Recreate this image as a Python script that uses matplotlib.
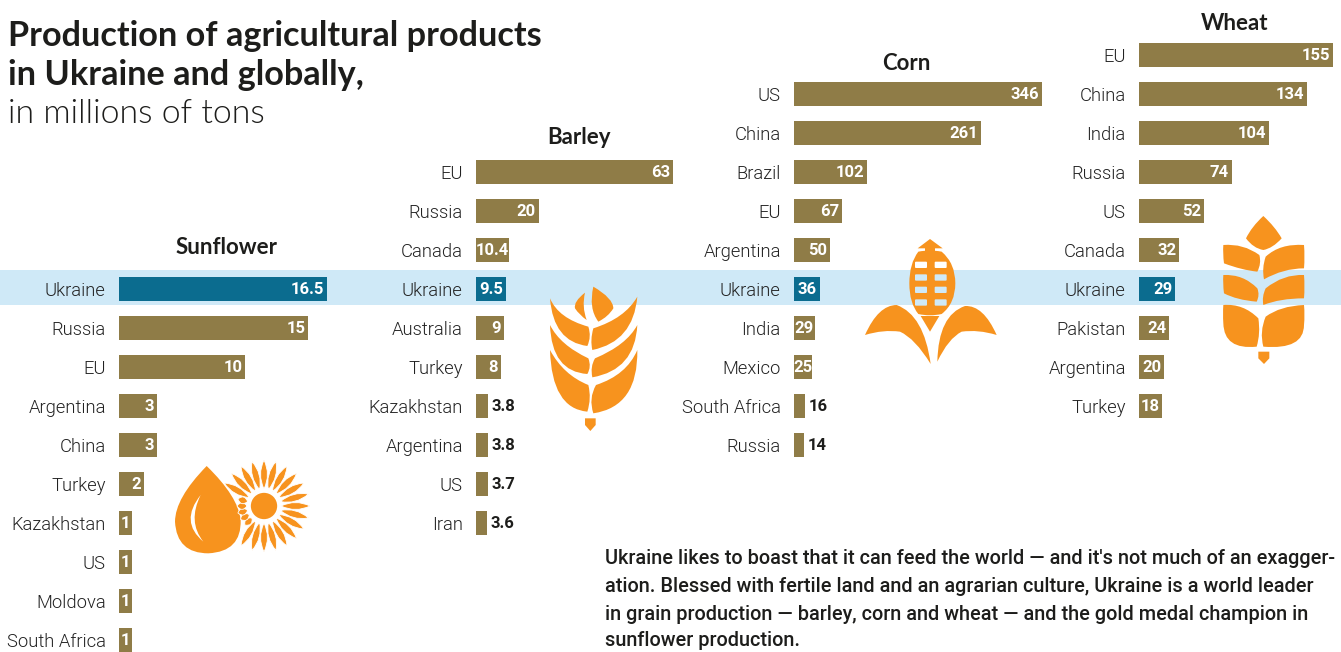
import numpy as np
import matplotlib
matplotlib.use('Agg')
import matplotlib.pyplot as plt
from matplotlib.path import Path
from matplotlib.patches import PathPatch, Circle, FancyBboxPatch

# Production figures, millions of tons
sunflower_names = ['Ukraine', 'Russia', 'EU', 'Argentina', 'China', 'Turkey', 'Kazakhstan', 'US', 'Moldova', 'South Africa']
sunflower_vals = [16.5, 15, 10, 3, 3, 2, 1, 1, 1, 1]
barley_names = ['EU', 'Russia', 'Canada', 'Ukraine', 'Australia', 'Turkey', 'Kazakhstan', 'Argentina', 'US', 'Iran']
barley_vals = [63, 20, 10.4, 9.5, 9, 8, 3.8, 3.8, 3.7, 3.6]
corn_names = ['US', 'China', 'Brazil', 'EU', 'Argentina', 'Ukraine', 'India', 'Mexico', 'South Africa', 'Russia']
corn_vals = [346, 261, 102, 67, 50, 36, 29, 25, 16, 14]
wheat_names = ['EU', 'China', 'India', 'Russia', 'US', 'Canada', 'Ukraine', 'Pakistan', 'Argentina', 'Turkey']
wheat_vals = [155, 134, 104, 74, 52, 32, 29, 24, 20, 18]

W, H = 1341, 652
ROW = 39
BAR = '#8f7c47'
UKR = '#0b6c8f'
BAND = '#cfe9f7'
ORANGE = '#f7931e'
DARK = '#1d1d1b'

fig = plt.figure(figsize=(W / 100, H / 100), dpi=100, facecolor='white')

# background layer in pixel units: highlight band, icons, headings
bg = fig.add_axes([0, 0, 1, 1], zorder=0)
bg.set_xlim(0, W)
bg.set_ylim(H, 0)
bg.axis('off')
bg.axhspan(270, 305, color=BAND, lw=0)


def panel(names, vals, x0, x1, y_first, outside_below=0):
    n = len(vals)
    top = y_first - ROW / 2
    height = ROW * n
    ax = fig.add_axes([x0 / W, 1 - (top + height) / H, (x1 - x0) / W, height / H], zorder=2)
    ax.patch.set_alpha(0)
    ax.set_xlim(0, max(vals))
    ax.set_ylim(n - 0.5, -0.5)
    colors = [UKR if name == 'Ukraine' else BAR for name in names]
    ax.barh(np.arange(n), vals, height=0.64, color=colors)
    ax.set_yticks(np.arange(n))
    ax.set_yticklabels(names, family='Roboto', weight=300, fontsize=13.2, color='#222222')
    ax.tick_params(axis='y', length=0, pad=9.5)
    ax.set_xticks([])
    for s in ax.spines.values():
        s.set_visible(False)
    px_per = (x1 - x0) / max(vals)
    font = dict(family='Roboto', weight='bold', fontsize=12, va='center', textcoords='offset points')
    for i, v in enumerate(vals):
        txt = f'{v:g}'
        if v < outside_below:
            ax.annotate(txt, (v, i), xytext=(2.5, -0.5), ha='left', color=DARK, **font)
        elif v * px_per < len(txt) * 10 + 8:
            ax.annotate(txt, (v / 2, i), xytext=(0, -0.5), ha='center', color='white', **font)
        else:
            ax.annotate(txt, (v, i), xytext=(-2, -0.5), ha='right', color='white', **font)
    return ax


panel(sunflower_names, sunflower_vals, 119, 327, 289)
panel(barley_names, barley_vals, 476, 673, 172, outside_below=4)
panel(corn_names, corn_vals, 794, 1042, 94, outside_below=20)
panel(wheat_names, wheat_vals, 1139, 1333, 55)

# headings
for label, x, y in [('Sunflower', 227, 247), ('Barley', 579, 137), ('Corn', 906, 63), ('Wheat', 1235, 24)]:
    bg.text(x, y, label, ha='center', va='center', family='Lato', weight='bold', fontsize=16, color=DARK)

bg.text(8, 36, 'Production of agricultural products', family='Lato', weight='bold', fontsize=24.7,
        va='center', color=DARK)
bg.text(8, 75, 'in Ukraine and globally,', family='Lato', weight='bold', fontsize=24.7, va='center', color=DARK)
bg.text(8, 114, 'in millions of tons', family='Lato', weight=300, fontsize=24.4, va='center', color=DARK)

para = ["Ukraine likes to boast that it can feed the world \u2014 and it's not much of an exagger-",
        'ation. Blessed with fertile land and an agrarian culture, Ukraine is a world leader',
        'in grain production \u2014 barley, corn and wheat \u2014 and the gold medal champion in',
        'sunflower production.']
for line, y in zip(para, [558, 586, 614, 641]):
    bg.text(605, y, line, family='Roboto', weight='medium', fontsize=14.3, va='center', color=DARK)


def shape(points, off, fc=ORANGE, z=3):
    # anchors and quadratic control points alternate, closed back at the first anchor
    pts = [(off[0] + px / 3, off[1] + py / 3) for px, py in points]
    verts = pts + [pts[0]]
    codes = [Path.MOVETO] + [Path.CURVE3] * len(pts)
    bg.add_patch(PathPatch(Path(verts, codes), fc=fc, ec='none', zorder=z))


def poly(points, off, fc=ORANGE, z=3):
    pts = [(off[0] + px / 3, off[1] + py / 3) for px, py in points]
    bg.add_patch(plt.Polygon(pts, closed=True, fc=fc, ec='none', zorder=z))


# barley ear
off = (530, 270)
barley_leaves = [
    [(190, 50), (250, 85), (250, 115), (235, 140), (205, 155), (175, 115)],
    [(165, 68), (130, 95), (135, 115), (148, 135), (170, 150), (155, 110)],
    [(60, 85), (85, 145), (175, 170), (185, 200), (172, 228), (70, 215)],
    [(60, 165), (90, 225), (175, 265), (185, 290), (172, 312), (65, 305)],
    [(60, 240), (100, 315), (175, 345), (185, 385), (172, 425), (65, 415)],
    [(322, 80), (285, 145), (190, 175), (180, 210), (187, 240), (310, 215)],
    [(322, 165), (290, 225), (195, 265), (180, 290), (187, 322), (315, 300)],
    [(322, 240), (290, 315), (198, 345), (175, 385), (190, 430), (325, 410)],
]
for leaf in barley_leaves:
    shape(leaf, off)
poly([(165, 445), (197, 445), (197, 465), (181, 483), (165, 465)], off)

# corn cob
off = (850, 220)
poly([(240, 57), (278, 85), (255, 85), (255, 97), (225, 97), (225, 85), (203, 85)], off)
shape([(205, 95), (178, 130), (178, 190), (178, 250), (205, 282), (240, 290),
       (275, 282), (316, 250), (316, 190), (316, 130), (275, 95), (240, 88)], off)
poly([(212, 288), (268, 288), (240, 335)], off)
for ky in [125, 163, 200, 238]:
    for kx in [195, 254]:
        px, py = off[0] + kx / 3, off[1] + ky / 3
        col = BAND if 268 < py < 303 else 'white'
        bg.add_patch(FancyBboxPatch((px + 1, py + 1), 36 / 3 - 2, 19 / 3 - 2, boxstyle='round,pad=1',
                                    fc=col, ec='none', zorder=4))
shape([(45, 345), (85, 255), (140, 255), (222, 285), (242, 432), (195, 355), (150, 335), (100, 328)], off)
shape([(440, 345), (400, 255), (345, 258), (265, 285), (262, 425), (295, 355), (335, 335), (385, 328)], off)

# wheat ear
off = (1200, 200)
wheat_leaves = [
    [(190, 48), (225, 80), (245, 115), (218, 145), (190, 150), (160, 145), (138, 115), (155, 80)],
    [(70, 135), (130, 130), (178, 165), (185, 190), (172, 215), (125, 210), (72, 190), (68, 160)],
    [(70, 225), (130, 222), (172, 265), (180, 285), (170, 305), (110, 300), (72, 280), (68, 250)],
    [(70, 315), (130, 310), (175, 355), (182, 400), (170, 440), (72, 450), (70, 370), (68, 340)],
    [(312, 135), (240, 130), (197, 170), (185, 205), (192, 238), (250, 205), (312, 205), (315, 170)],
    [(312, 225), (250, 222), (197, 265), (185, 290), (190, 315), (240, 295), (312, 295), (315, 260)],
    [(312, 315), (240, 318), (197, 350), (178, 395), (190, 440), (312, 450), (312, 375), (315, 345)],
]
for leaf in wheat_leaves:
    shape(leaf, off)
poly([(175, 455), (208, 455), (208, 475), (192, 492), (175, 475)], off)

# sunflower oil: drop and sun
off = (140, 440)
shape([(200, 78), (105, 175), (105, 245), (110, 340), (205, 340), (305, 335), (302, 240), (295, 170)], off)
shape([(182, 165), (118, 245), (190, 305), (142, 245)], off, fc='white', z=4)
cx, cy = 264, 506
bg.add_patch(Circle((cx, cy), 14, fc=ORANGE, ec='white', lw=1.2, zorder=6))
c = np.array([cx, cy])
for ang in np.arange(0, 360, 15):
    t = np.radians(ang)
    left = 225 <= ang <= 285
    r0, r1 = 17, (27 if left else 46)
    d = np.array([np.sin(t), -np.cos(t)])
    nrm = np.array([d[1], -d[0]])
    mid = (r0 + r1) / 2
    verts = [c + d * r0, c + d * mid + nrm * 7, c + d * r1, c + d * mid - nrm * 7, c + d * r0]
    codes = [Path.MOVETO, Path.CURVE3, Path.CURVE3, Path.CURVE3, Path.CURVE3]
    bg.add_patch(PathPatch(Path(verts, codes), fc=ORANGE, ec='white', lw=0.6, zorder=5))

fig.savefig('out.png', dpi=100)
plt.close()
